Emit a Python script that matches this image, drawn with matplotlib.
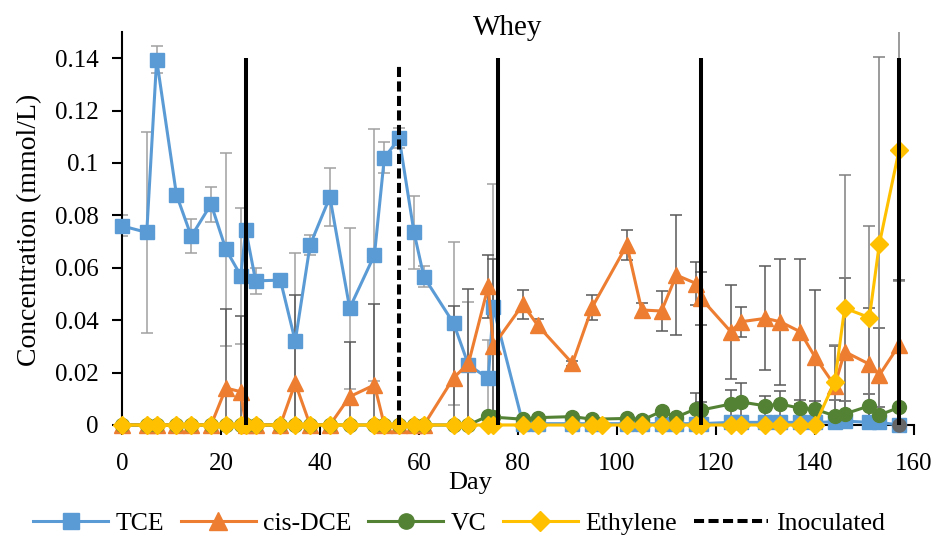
import numpy as np
import matplotlib
matplotlib.use('Agg')
import matplotlib.pyplot as plt
from matplotlib.ticker import FuncFormatter, MultipleLocator

plt.rcParams['font.family'] = ['Liberation Serif', 'DejaVu Serif']

# sampling days (shared by TCE, cis-DCE and VC)
days = [0, 5, 7, 11, 14, 18, 21, 24, 25, 27, 32, 35, 38, 42, 46, 51, 53, 56, 59, 61,
        67, 70, 74, 75, 81, 84, 91, 95, 102, 105, 109, 112, 116, 117, 123, 125, 130,
        133, 137, 140, 144, 146, 151, 153, 157]

tce = [0.076, 0.0735, 0.1395, 0.0879, 0.072, 0.0843, 0.067, 0.057, 0.0745, 0.055,
       0.0553, 0.032, 0.0687, 0.087, 0.0446, 0.0649, 0.102, 0.1094, 0.0735, 0.0565,
       0.0388, 0.0229, 0.0178, 0.045, 0.0005, 0.0005, 0.0005, 0.0005, 0.0005, 0.0005,
       0.0005, 0.0005, 0.0005, 0.0005, 0.001, 0.001, 0.001, 0.001, 0.001, 0.001,
       0.0012, 0.0015, 0.001, 0.001, 0.0]
tce_err = [0.004, 0.0385, 0.005, 0, 0.0065, 0.0067, 0.037, 0.026, 0, 0.005,
           0, 0.0335, 0.004, 0.011, 0.0307, 0.048, 0.006, 0.0038, 0.014, 0.004,
           0.031, 0.024, 0.0146, 0.047, 0, 0, 0, 0, 0, 0,
           0, 0, 0, 0, 0, 0, 0, 0, 0, 0,
           0, 0, 0, 0, 0]

dce = [0, 0, 0, 0, 0, 0, 0.0141, 0.0127, 0, 0,
       0, 0.016, 0, 0, 0.0108, 0.0153, 0, 0, 0, 0,
       0.018, 0.0235, 0.053, 0.0302, 0.046, 0.038, 0.0235, 0.045, 0.0687, 0.0439,
       0.0435, 0.0572, 0.054, 0.0483, 0.0356, 0.0394, 0.0407, 0.0394, 0.0356, 0.026,
       0.015, 0.028, 0.0232, 0.019, 0.0305]
dce_err = [0, 0, 0, 0, 0, 0, 0.030, 0.029, 0, 0,
           0, 0.0336, 0, 0, 0.021, 0.0307, 0, 0, 0, 0,
           0.0274, 0.0285, 0.012, 0.033, 0.0057, 0.0025, 0.001, 0.0048, 0.0057, 0.0025,
           0.0077, 0.023, 0.0083, 0.0102, 0.018, 0.0057, 0.0199, 0.024, 0.0277, 0.0255,
           0.015, 0.028, 0.0215, 0.018, 0.025]

vc = [0, 0, 0, 0, 0, 0, 0, 0, 0, 0,
      0, 0, 0, 0, 0, 0, 0, 0, 0, 0,
      0, 0, 0.0035, 0.003, 0.0022, 0.0028, 0.0032, 0.0022, 0.0025, 0.0018,
      0.0052, 0.003, 0.0062, 0.0057, 0.008, 0.0088, 0.0073, 0.008, 0.0064, 0.006,
      0.0035, 0.0042, 0.0073, 0.0038, 0.0067]
vc_err = [0] * 32 + [0.006, 0.003, 0.0055, 0.0073, 0.0037, 0.005, 0.003, 0.003,
                     0.006, 0.005, 0.0047, 0.003, 0]

eth_days = [0, 5, 7, 11, 14, 18, 21, 24, 25, 27, 32, 35, 38, 42, 46, 51, 53, 56, 59, 61,
            67, 70, 74, 75, 81, 84, 91, 95, 97, 102, 105, 109, 112, 116, 117, 123, 125,
            130, 133, 137, 140, 144, 146, 151, 153, 157]
eth = [0] * 41 + [0.0165, 0.0446, 0.041, 0.069, 0.105]
eth_err = [0] * 41 + [0.014, 0.051, 0.035, 0.0715, 0.05]

extra_day = [157]
extra_val = [0.0]

feed_days = [25, 76, 117, 157]
inoc_day = 56

c_tce = '#5B9BD5'
c_dce = '#ED7D31'
c_vc = '#548235'
c_eth = '#FFC000'

fig = plt.figure(figsize=(9.37, 5.37), dpi=100)
ax = fig.add_axes([0.1302, 0.2086, 0.8452, 0.7318])


def err_bars(x, y, e, color, z):
    x = np.array(x, float)
    y = np.array(y, float)
    e = np.array(e, float)
    m = e > 0
    ax.errorbar(x[m], y[m], yerr=e[m], fmt='none', ecolor=color, elinewidth=1.1,
                capsize=4.3, capthick=1.1, zorder=z)


err_bars(days, tce, tce_err, '#a0a0a0', 1)
err_bars(days, dce, dce_err, '#595959', 1.1)
err_bars(days, vc, vc_err, '#595959', 1.2)
err_bars(eth_days, eth, eth_err, '#808080', 1.3)

ax.plot(days, tce, color=c_tce, lw=2.2, marker='s', ms=10.5, label='TCE', zorder=3, clip_on=False)
ax.plot(days, dce, color=c_dce, lw=2.2, marker='^', ms=12, label='cis-DCE', zorder=4, clip_on=False)
ax.plot(days, vc, color=c_vc, lw=2.2, marker='o', ms=10, label='VC', zorder=5, clip_on=False)
ax.plot(eth_days, eth, color=c_eth, lw=2.2, marker='D', ms=9, label='Ethylene', zorder=6, clip_on=False)
ax.plot(extra_day, extra_val, color='#666666', marker='o', ms=9.5, ls='none', zorder=7, clip_on=False)

ax.vlines(feed_days, 0, 0.14, colors='black', lw=2.9, zorder=8)
ax.vlines([inoc_day], 0, 0.138, colors='black', lw=2.9, linestyles=(0, (2.5, 1.1)),
          zorder=8, label='Inoculated')

ax.set_xlim(0, 160)
ax.set_ylim(0, 0.15)
ax.xaxis.set_major_locator(MultipleLocator(20))
ax.set_yticks(np.arange(0, 0.141, 0.02))
ax.yaxis.set_major_formatter(FuncFormatter(lambda v, p: '%g' % round(v, 3)))
for s in ['top', 'right']:
    ax.spines[s].set_visible(False)
for s in ['left', 'bottom']:
    ax.spines[s].set_linewidth(1.5)
ax.tick_params(axis='both', direction='out', length=7, width=1.5, labelsize=18)
ax.tick_params(axis='x', pad=13)
ax.tick_params(axis='y', pad=10)

fig.text(0.542, 0.948, 'Whey', ha='center', va='center', fontsize=21)
fig.text(0.032, 0.572, 'Concentration (mmol/L)', ha='center', va='center', rotation=90, fontsize=20)
fig.text(0.502, 0.100, 'Day', ha='center', va='center', fontsize=19)

fig.legend(loc='center', bbox_to_anchor=(0.490, 0.026), ncol=5, frameon=False, fontsize=18.5,
           handlelength=2.9, handletextpad=0.3, columnspacing=0.65, markerscale=1.1)

plt.savefig('out.png', dpi=100)
